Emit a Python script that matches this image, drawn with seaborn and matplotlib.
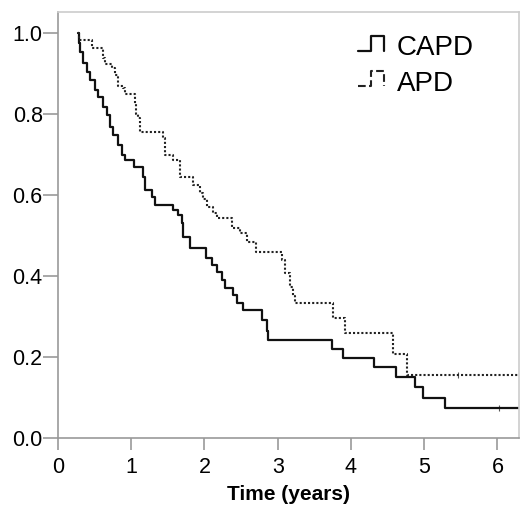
import matplotlib
matplotlib.use("Agg")
import matplotlib.pyplot as plt
import seaborn as sns
from matplotlib.legend_handler import HandlerBase
from matplotlib.lines import Line2D

# Kaplan-Meier step curves
capd_time = [0.27, 0.29, 0.30, 0.34, 0.40, 0.44, 0.50, 0.55, 0.61, 0.67, 0.71, 0.75,
             0.82, 0.87, 0.91, 1.04, 1.16, 1.19, 1.28, 1.32, 1.57, 1.64, 1.69, 1.71,
             1.80, 2.02, 2.10, 2.17, 2.24, 2.28, 2.39, 2.45, 2.53, 2.78, 2.85, 2.87,
             3.74, 3.89, 4.31, 4.62, 4.88, 4.98, 5.29, 6.30]
capd_surv = [1.0, 0.975, 0.953, 0.926, 0.904, 0.884, 0.859, 0.842, 0.817, 0.797, 0.768, 0.748,
             0.723, 0.700, 0.686, 0.669, 0.644, 0.612, 0.596, 0.575, 0.563, 0.550, 0.530, 0.496,
             0.469, 0.444, 0.427, 0.410, 0.390, 0.370, 0.353, 0.333, 0.316, 0.291, 0.265, 0.242,
             0.219, 0.197, 0.175, 0.151, 0.126, 0.099, 0.074, 0.074]

apd_time = [0.27, 0.29, 0.47, 0.61, 0.64, 0.74, 0.78, 0.82, 0.89, 0.91, 1.05, 1.06, 1.09,
            1.12, 1.43, 1.46, 1.57, 1.66, 1.84, 1.94, 1.98, 2.04, 2.11, 2.17, 2.37, 2.48,
            2.58, 2.71, 3.06, 3.10, 3.17, 3.21, 3.23, 3.75, 3.92, 4.57, 4.77, 6.30]
apd_surv = [1.0, 0.983, 0.963, 0.940, 0.925, 0.914, 0.896, 0.870, 0.864, 0.850, 0.826, 0.800, 0.790,
            0.756, 0.740, 0.700, 0.686, 0.644, 0.625, 0.605, 0.590, 0.570, 0.555, 0.543, 0.520, 0.506,
            0.484, 0.460, 0.440, 0.407, 0.373, 0.350, 0.333, 0.296, 0.260, 0.207, 0.156, 0.156]

# censored observations on the tails
capd_cens_t = [6.02]
capd_cens_s = [0.074]
apd_cens_t = [5.46]
apd_cens_s = [0.156]

x_ticks = [0, 1, 2, 3, 4, 5, 6]
y_ticks = [0.0, 0.2, 0.4, 0.6, 0.8, 1.0]


class StepHandler(HandlerBase):
    # draws the little step symbol used by SPSS survival legends
    def create_artists(self, legend, orig_handle, xdescent, ydescent,
                       width, height, fontsize, trans):
        x0 = -xdescent
        y0 = -ydescent
        lo = y0 + height * 0.25
        hi = y0 + height * 1.0
        xs = [x0, x0 + width * 0.5, x0 + width * 0.5, x0 + width, x0 + width]
        ys = [lo, lo, hi, hi, lo]
        ln = Line2D(xs, ys, color=orig_handle.get_color(),
                    linestyle=orig_handle.get_linestyle(),
                    linewidth=orig_handle.get_linewidth())
        ln.set_transform(trans)
        return [ln]


sns.set_style("white")
plt.rcParams["font.family"] = ["Liberation Sans", "DejaVu Sans"]
plt.rcParams["text.color"] = "black"
plt.rcParams["axes.labelcolor"] = "black"
plt.rcParams["xtick.labelcolor"] = "black"
plt.rcParams["ytick.labelcolor"] = "black"

fig = plt.figure(figsize=(5.2, 5.07), dpi=100)
ax = fig.add_axes([0.1115, 0.136, 0.886, 0.840])

sns.lineplot(x=capd_time, y=capd_surv, ax=ax, estimator=None, sort=False,
             drawstyle="steps-post", color="#111111", linewidth=1.6)
sns.lineplot(x=apd_time, y=apd_surv, ax=ax, estimator=None, sort=False,
             drawstyle="steps-post", color="#222222", linewidth=1.5,
             linestyle=(0, (1, 1)))
sns.scatterplot(x=capd_cens_t, y=capd_cens_s, ax=ax, marker="|", s=20,
                color="#555555", linewidth=0.8)
sns.scatterplot(x=apd_cens_t, y=apd_cens_s, ax=ax, marker="|", s=20,
                color="#555555", linewidth=0.8)

ax.set_xlim(0, 6.29)
ax.set_ylim(0, 1.052)
ax.set_xticks(x_ticks)
ax.set_yticks(y_ticks)
ax.set_yticklabels([f"{v:.1f}" for v in y_ticks])
ax.tick_params(axis="both", labelsize=15.5, color="#999999", labelcolor="black",
               direction="out", width=1.2, left=True, bottom=True)
ax.tick_params(axis="x", length=8.6, pad=5.0)
ax.tick_params(axis="y", length=10.5, pad=0.5)
ax.set_xlabel("Time (years)", fontsize=15, fontweight="bold", labelpad=5,
              color="black")
ax.set_ylabel("")

for side in ["left", "bottom"]:
    ax.spines[side].set_color("#999999")
    ax.spines[side].set_linewidth(1.2)
for side in ["top", "right"]:
    ax.spines[side].set_color("#cccccc")
    ax.spines[side].set_linewidth(1.2)

h1 = Line2D([], [], color="#111111", linewidth=1.6)
h2 = Line2D([], [], color="#222222", linewidth=1.5, linestyle=(0, (1, 1)))
leg = ax.legend([h1, h2], ["CAPD", "APD"], loc="upper left",
                bbox_to_anchor=(0.597, 1.004), frameon=False, fontsize=20,
                handlelength=0.95, handletextpad=0.45, labelspacing=0.33,
                handler_map={Line2D: StepHandler()})
for t in leg.get_texts():
    t.set_color("black")

fig.savefig("out.png", dpi=100)
